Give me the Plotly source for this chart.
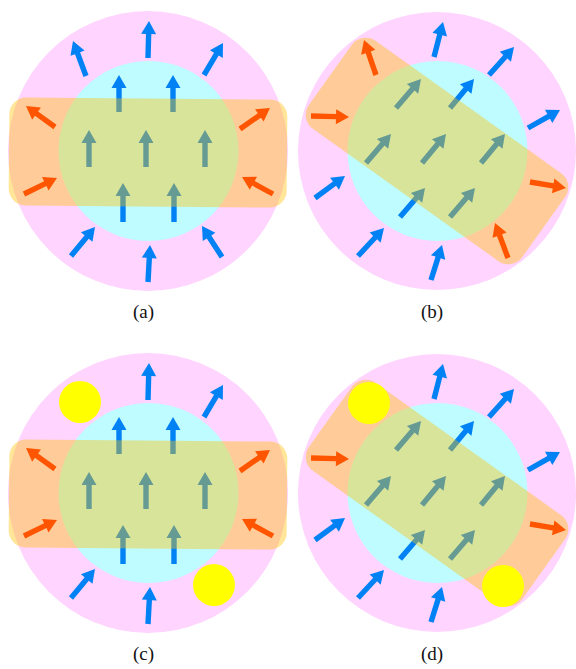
import numpy as np
import plotly.graph_objects as go

# ---------------- data (relative to each panel centre, y pointing down) -------------
panel_labels = ["(a)", "(b)", "(c)", "(d)"]
panel_cx = [148, 437, 148, 437]
panel_cy = [151, 151, 493, 493]
panel_layout = ["h", "t", "h", "t"]          # horizontal band / tilted band
pink_r = [140, 139, 140, 139]
cyan_r = [90, 90, 90, 90]

# horizontal layout (panels a, c): arrows as (x_tail, y_tail, x_tip, y_tip)
h_outer_blue = [(0, -93, 1, -130), (-62, -75, -75, -110), (56, -76, 75, -108),
                (0, 131, 2, 94), (-77, 105, -53, 76), (74, 106, 54, 75)]
h_inner_blue = [(-29, -39, -29, -76), (25, -39, 25, -76),
                (-59, 16, -59, -21), (-2, 16, -2, -21), (57, 16, 57, -21),
                (-25, 71, -25, 32), (26, 71, 26, 32)]
h_orange = [(-93, -24, -122, -45), (-124, 43, -91, 27),
            (92, -22, 122, -43), (125, 43, 94, 26)]

# tilted layout (panels b, d)
t_outer_blue = [(-3, -94, 6, -129), (52, -76, 77, -104), (91, -23, 123, -41),
                (-122, 47, -92, 25), (-79, 105, -53, 77), (-6, 129, 5, 94)]
t_inner_blue = [(-41, -43, -16, -72), (13, -43, 37, -72),
                (-71, 12, -46, -17), (-15, 12, 9, -17), (44, 12, 68, -17),
                (-37, 66, -12, 37), (13, 66, 38, 37)]
t_orange = [(-61, -76, -73, -111), (-126, -35, -88, -34),
            (93, 31, 129, 37), (71, 107, 58, 72)]

# band: (centre dx, centre dy, half length, half width, angle deg, corner radius)
h_band = (0, 1.5, 139, 54, 0.5, 17)
t_band = (0, 0, 131, 54, 35.5, 17)

# panels c, d: removed arrows (index) and yellow discs (dx, dy, r)
removed_blue = {2: [1, 5], 3: []}
removed_orange = {2: [], 3: [0, 3]}
yellow_discs = {2: [(-68, -91, 21), (66, 92, 21)], 3: [(-68, -90, 21), (66, 93, 21)]}

# ---------------- styles ---------------------
PINK = "rgb(255,212,255)"
CYAN = "rgb(190,252,255)"
BLUE = "rgb(0,130,245)"
ORANGE = "rgb(255,85,0)"
BAND = "rgba(255,192,0,0.4)"
YELLOW = "rgb(255,255,0)"


def arrow_path(cx, cy, a, shaft=2.7, head_w=7.5, head_l=13):
    x0, y0, x1, y1 = cx + a[0], cy + a[1], cx + a[2], cy + a[3]
    d = np.array([x1 - x0, y1 - y0], float)
    d /= np.hypot(*d)
    n = np.array([-d[1], d[0]])
    t = np.array([x0, y0]); p = np.array([x1, y1]); neck = p - d * head_l
    pts = [t + n * shaft, neck + n * shaft, neck + n * head_w, p,
           neck - n * head_w, neck - n * shaft, t - n * shaft]
    return "M " + " L ".join(f"{q[0]:.2f},{q[1]:.2f}" for q in pts) + " Z"


def band_path(cx, cy, band):
    dx, dy, L, W, ang, r = band
    pts = []
    corners = [(L - r, W - r, 0), (-L + r, W - r, 90), (-L + r, -W + r, 180), (L - r, -W + r, 270)]
    for (ox, oy, start) in corners:
        for th in np.linspace(np.radians(start), np.radians(start + 90), 12):
            pts.append((ox + r * np.cos(th), oy + r * np.sin(th)))
    a = np.radians(ang)
    out = []
    for (x, y) in pts:
        xr = x * np.cos(a) - y * np.sin(a) + cx + dx
        yr = x * np.sin(a) + y * np.cos(a) + cy + dy
        out.append(f"{xr:.2f},{yr:.2f}")
    return "M " + " L ".join(out) + " Z"


fig = go.Figure()
fig.add_trace(go.Scatter(x=panel_cx, y=panel_cy, mode="markers",
                         marker=dict(opacity=0), hoverinfo="skip", showlegend=False))

shapes = []
for i in range(4):
    cx, cy = panel_cx[i], panel_cy[i]
    if panel_layout[i] == "h":
        ob, ib, orr, band = h_outer_blue, h_inner_blue, h_orange, h_band
    else:
        ob, ib, orr, band = t_outer_blue, t_inner_blue, t_orange, t_band
    rb = removed_blue.get(i, [])
    ro = removed_orange.get(i, [])
    R = pink_r[i]
    shapes.append(dict(type="circle", xref="x", yref="y", x0=cx - R, x1=cx + R,
                       y0=cy - R, y1=cy + R, fillcolor=PINK, line=dict(width=0), layer="above"))
    r = cyan_r[i]
    shapes.append(dict(type="circle", xref="x", yref="y", x0=cx - r + 0.5, x1=cx + r + 0.5,
                       y0=cy - r, y1=cy + r, fillcolor=CYAN, line=dict(width=0), layer="above"))
    for k, a in enumerate(ob):
        if k in rb:
            continue
        shapes.append(dict(type="path", xref="x", yref="y", path=arrow_path(cx, cy, a),
                           fillcolor=BLUE, line=dict(width=0), layer="above"))
    for a in ib:
        shapes.append(dict(type="path", xref="x", yref="y", path=arrow_path(cx, cy, a),
                           fillcolor=BLUE, line=dict(width=0), layer="above"))
    shapes.append(dict(type="path", xref="x", yref="y", path=band_path(cx, cy, band),
                       fillcolor=BAND, line=dict(width=0), layer="above"))
    for k, a in enumerate(orr):
        if k in ro:
            continue
        shapes.append(dict(type="path", xref="x", yref="y", path=arrow_path(cx, cy, a),
                           fillcolor=ORANGE, line=dict(width=0), layer="above"))
    for (dx, dy, rr) in yellow_discs.get(i, []):
        shapes.append(dict(type="circle", xref="x", yref="y", x0=cx + dx - rr, x1=cx + dx + rr,
                           y0=cy + dy - rr, y1=cy + dy + rr, fillcolor=YELLOW,
                           line=dict(width=0), layer="above"))
    fig.add_annotation(x=cx - 5, y=cy + 161, text=panel_labels[i], showarrow=False,
                       xref="x", yref="y", font=dict(family="Liberation Serif", size=19, color="#111"))

fig.update_layout(
    shapes=shapes,
    width=576, height=669,
    margin=dict(l=0, r=0, t=0, b=0),
    paper_bgcolor="white", plot_bgcolor="white",
    xaxis=dict(range=[0, 576], visible=False, fixedrange=True),
    yaxis=dict(range=[669, 0], visible=False, fixedrange=True),
    showlegend=False,
)
fig.write_html("out.html", config={"displayModeBar": False},
               post_script="document.body.style.margin='0px';document.body.style.overflow='hidden';")
